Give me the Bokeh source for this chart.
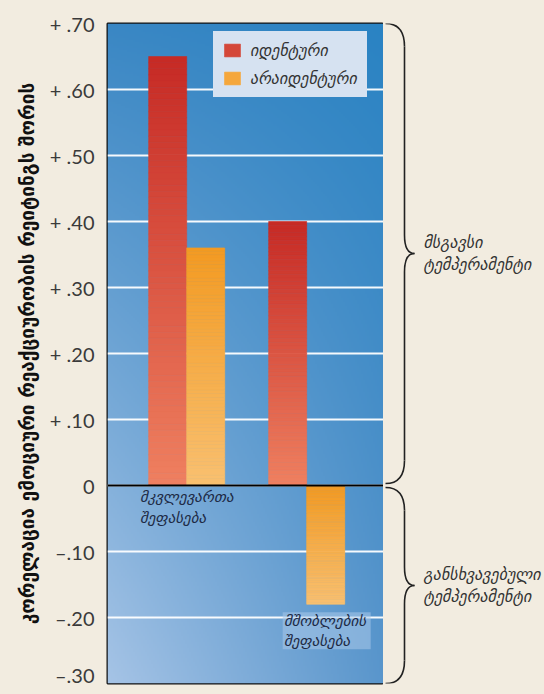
import numpy as np
from bokeh.plotting import figure
from bokeh.models import Range1d, FixedTicker, Span, Legend, LegendItem
from bokeh.layouts import row
from bokeh.embed import file_html
from bokeh.resources import INLINE
from bokeh.core.properties import value

# ---------------- data ----------------
groups = ["მკვლევართა\nშეფასება", "მშობლების\nშეფასება"]
series_names = ["იდენტური", "არაიდენტური"]
identical = [0.65, 0.40]
nonidentical = [0.36, -0.18]
tick_values = [-0.3, -0.2, -0.1, 0.0, 0.1, 0.2, 0.3, 0.4, 0.5, 0.6, 0.7]
tick_labels = ["–.30", "–.20", "–.10", "0", "+ .10", "+ .20", "+ .30",
               "+ .40", "+ .50", "+ .60", "+ .70"]
y_title = "კორელაცია ემოციური რეაქციურობის რეიტინგს შორის"
brace_labels = [["მსგავსი", "ტემპერამენტი"], ["განსხვავებული", "ტემპერამენტი"]]

# ---------------- style ----------------
BEIGE = "#f2ece0"
LEGEND_BG = "#d6e2f1"
GEO_FONT = "DejaVu Sans"
red_top, red_bot = (198, 42, 37), (239, 128, 96)
org_top, org_bot = (243, 154, 34), (249, 192, 112)

W, H = 544, 686
FRAME_L, FRAME_T, FRAME_B = 107, 23, 3
RIGHT_W = 161
main_w = W - RIGHT_W

y_range = Range1d(tick_values[0], tick_values[-1])
x_range = Range1d(-0.66, 1.64)

p = figure(width=main_w, height=H, x_range=x_range, y_range=y_range,
           output_backend="svg", toolbar_location=None,
           min_border_left=FRAME_L, min_border_right=0,
           min_border_top=FRAME_T, min_border_bottom=FRAME_B)
p.background_fill_color = BEIGE
p.border_fill_color = BEIGE
p.outline_line_color = "#111111"
p.outline_line_width = 2

# background gradient (bilinear between corner colours)
ny, nx = 330, 138
tl = np.array([58, 135, 196]); tr = np.array([42, 131, 195])
bl = np.array([166, 196, 230]); br = np.array([90, 150, 204])
fy = np.linspace(0, 1, ny)[:, None, None]   # 0 bottom -> 1 top
fx = np.linspace(0, 1, nx)[None, :, None]
col = (bl * (1 - fx) + br * fx) * (1 - fy) + (tl * (1 - fx) + tr * fx) * fy
img = np.empty((ny, nx), dtype=np.uint32)
view = img.view(dtype=np.uint8).reshape((ny, nx, 4))
view[:, :, 0:3] = col.astype(np.uint8)
view[:, :, 3] = 255
p.image_rgba(image=[img], x=x_range.start, y=y_range.start,
             dw=x_range.end - x_range.start, dh=y_range.end - y_range.start,
             level="image")

# grid
p.xgrid.visible = False
p.ygrid.ticker = FixedTicker(ticks=tick_values)
p.ygrid.grid_line_color = "white"
p.ygrid.grid_line_width = 2
p.ygrid.grid_line_alpha = 0.95

# bars with vertical gradient (built as thin slices)
bar_w = 0.317
N = 70


def lerp(c0, c1, t):
    return "#%02x%02x%02x" % tuple(int(round(a + (b - a) * t)) for a, b in zip(c0, c1))


def gradient_bars(values, offset, ctop, cbot):
    L, R, B, T, C = [], [], [], [], []
    for i, v in enumerate(values):
        hi, lo = max(v, 0.0), min(v, 0.0)
        edges = np.linspace(hi, lo, N + 1)
        for k in range(N):
            L.append(i + offset - bar_w / 2)
            R.append(i + offset + bar_w / 2)
            T.append(edges[k])
            B.append(edges[k + 1])
            C.append(lerp(ctop, cbot, (k + 0.5) / N))
    return p.quad(left=L, right=R, bottom=B, top=T, fill_color=C,
                  line_color=C, line_width=0.6)


r_red = gradient_bars(identical, -bar_w / 2, red_top, red_bot)
r_org = gradient_bars(nonidentical, bar_w / 2, org_top, org_bot)

p.add_layout(Span(location=0, dimension="width", line_color="black", line_width=2))

# category labels
cat_x_off = [-0.39, -0.19]
cat_y = [-0.018, -0.205]
for i, g in enumerate(groups):
    lines = g.split("\n")
    if i == 1:
        p.quad(left=[i - 0.2], right=[i + 0.533], top=[cat_y[i] + 0.013],
               bottom=[cat_y[i] - 0.043], fill_color="#a9c8ea", fill_alpha=0.55,
               line_color=None)
    p.text(x=[i + cat_x_off[i]] * len(lines),
           y=[cat_y[i] - 0.031 * k for k in range(len(lines))],
           text=lines, text_font=value(GEO_FONT), text_font_style="italic",
           text_font_size="15px", text_color="#1d2a45",
           text_align="left", text_baseline="middle")

# axes
p.xaxis.visible = False
ax = p.yaxis[0]
ax.ticker = FixedTicker(ticks=tick_values)
ax.major_label_overrides = {v: s for v, s in zip(tick_values, tick_labels)}
ax.major_label_text_font = "Lato"
ax.major_label_text_font_size = "20px"
ax.major_label_text_color = "#3a3a3a"
ax.major_label_standoff = 7
ax.major_tick_line_color = None
ax.minor_tick_line_color = None
ax.axis_line_color = None
ax.axis_label = y_title
ax.axis_label_text_font = GEO_FONT
ax.axis_label_text_font_style = "bold"
ax.axis_label_text_font_size = "19px"
ax.axis_label_text_color = "#111111"
ax.axis_label_standoff = 9

# legend
legend = Legend(items=[LegendItem(label=series_names[0], renderers=[r_red], index=N // 3),
                       LegendItem(label=series_names[1], renderers=[r_org], index=N // 3)],
                location=(106, 586), orientation="vertical",
                background_fill_color=LEGEND_BG, background_fill_alpha=1,
                border_line_color=LEGEND_BG, border_line_width=1,
                padding=8, spacing=8, margin=0,
                glyph_width=20, glyph_height=16, label_height=20, label_width=108,
                label_standoff=8,
                label_text_font=GEO_FONT, label_text_font_style="italic",
                label_text_font_size="16px", label_text_color="#333333")
p.add_layout(legend)

# ---------------- right panel with braces ----------------
q = figure(width=RIGHT_W, height=H, x_range=Range1d(0, RIGHT_W), y_range=y_range,
           output_backend="svg", toolbar_location=None,
           min_border_left=0, min_border_right=0,
           min_border_top=FRAME_T, min_border_bottom=FRAME_B)
q.axis.visible = False
q.grid.visible = False
q.outline_line_color = None
q.background_fill_color = BEIGE
q.border_fill_color = BEIGE

spans = [(y_range.end, 0.003), (-0.003, y_range.start)]
x0, xl, xt = 2, 21, 31
r, rt = 0.035, 0.028
for (T, B), labels in zip(spans, brace_labels):
    M = (T + B) / 2
    bx0 = [x0, xl, xt, xl]
    by0 = [T, M + rt, M, B + r]
    bx1 = [xl, xt, xl, x0]
    by1 = [T - r, M, M - rt, B]
    cx0 = [x0 + 14, xl, xl + 4, xl]
    cy0 = [T, M + rt * 0.25, M, B + r * 0.4]
    cx1 = [xl, xl + 4, xl, x0 + 14]
    cy1 = [T - r * 0.4, M, M - rt * 0.25, B]
    q.bezier(x0=bx0, y0=by0, x1=bx1, y1=by1, cx0=cx0, cy0=cy0, cx1=cx1, cy1=cy1,
             line_color="#222222", line_width=1.6)
    q.segment(x0=[xl, xl], y0=[T - r, M - rt], x1=[xl, xl], y1=[M + rt, B + r],
              line_color="#222222", line_width=1.6)
    q.text(x=[40, 40], y=[M + 0.017, M - 0.017], text=labels,
           text_font=value(GEO_FONT), text_font_style="italic",
           text_font_size="16px", text_color="#333333",
           text_align="left", text_baseline="middle")

layout = row(p, q, spacing=0)
html = file_html(layout, INLINE)
html = html.replace("<head>", "<head><style>body{background:%s;}</style>" % BEIGE, 1)
open("out.html", "w").write(html)
